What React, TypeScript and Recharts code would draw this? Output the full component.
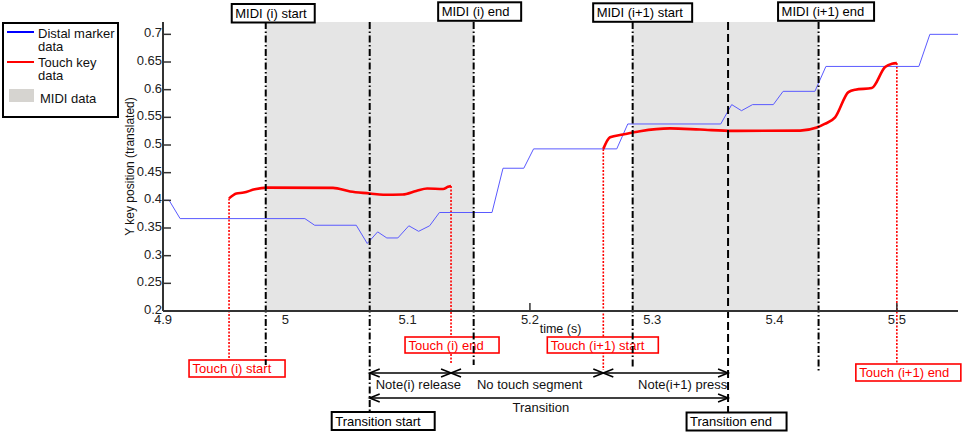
import React from 'react';
import { ComposedChart, Line, XAxis, YAxis, ReferenceArea, ReferenceLine } from 'recharts';

// distal marker trace (time s, y position)
const distalMarker = [
  { t: 4.9, v: 0.4 }, { t: 4.905, v: 0.4 }, { t: 4.914, v: 0.367 }, { t: 5.016, v: 0.367 },
  { t: 5.024, v: 0.355 }, { t: 5.058, v: 0.355 }, { t: 5.067, v: 0.322 }, { t: 5.0755, v: 0.343 },
  { t: 5.083, v: 0.332 }, { t: 5.092, v: 0.332 }, { t: 5.101, v: 0.354 }, { t: 5.109, v: 0.344 },
  { t: 5.118, v: 0.354 }, { t: 5.126, v: 0.378 }, { t: 5.169, v: 0.378 }, { t: 5.178, v: 0.458 },
  { t: 5.195, v: 0.458 }, { t: 5.203, v: 0.493 }, { t: 5.271, v: 0.493 }, { t: 5.28, v: 0.538 },
  { t: 5.356, v: 0.538 }, { t: 5.365, v: 0.573 }, { t: 5.373, v: 0.562 }, { t: 5.382, v: 0.573 },
  { t: 5.399, v: 0.573 }, { t: 5.407, v: 0.597 }, { t: 5.433, v: 0.597 }, { t: 5.442, v: 0.642 },
  { t: 5.518, v: 0.642 }, { t: 5.527, v: 0.7 }, { t: 5.55, v: 0.7 },
];

// touch key trace, null marks the gap between the two touches
const touchKey = [
  { t: 4.954, v: 0.4035 }, { t: 4.96, v: 0.4125 }, { t: 4.966, v: 0.414 }, { t: 4.975, v: 0.42 },
  { t: 4.985, v: 0.423 }, { t: 5.039, v: 0.4225 }, { t: 5.053, v: 0.416 }, { t: 5.069, v: 0.4125 },
  { t: 5.08, v: 0.41 }, { t: 5.096, v: 0.4105 }, { t: 5.107, v: 0.417 }, { t: 5.116, v: 0.4215 },
  { t: 5.129, v: 0.4205 }, { t: 5.133, v: 0.4245 }, { t: 5.1355, v: 0.426 },
  { t: 5.2, v: null },
  { t: 5.26, v: 0.493 }, { t: 5.2655, v: 0.514 }, { t: 5.276, v: 0.519 }, { t: 5.29, v: 0.525 },
  { t: 5.3145, v: 0.53 }, { t: 5.339, v: 0.528 }, { t: 5.366, v: 0.5255 }, { t: 5.421, v: 0.526 },
  { t: 5.4345, v: 0.5315 }, { t: 5.441, v: 0.538 }, { t: 5.4495, v: 0.55 }, { t: 5.4604, v: 0.5955 },
  { t: 5.466, v: 0.6 }, { t: 5.4795, v: 0.603 }, { t: 5.4904, v: 0.641 }, { t: 5.496, v: 0.647 },
  { t: 5.5, v: 0.648 },
];

const midiStart = [4.984, 5.284];
const midiEnd = [5.154, 5.436];
const transitionBounds = [5.069, 5.362];
const touchStart = [4.954, 5.26];
const touchEnd = [5.1355, 5.5];

const xTicks = [4.9, 5, 5.1, 5.2, 5.3, 5.4, 5.5];
const yTicks = [0.2, 0.25, 0.3, 0.35, 0.4, 0.45, 0.5, 0.55, 0.6, 0.65, 0.7];

const midiLabels = ['MIDI (i) start', 'MIDI (i) end', 'MIDI (i+1) start', 'MIDI (i+1) end'];
const touchLabels = ['Touch (i) start', 'Touch (i) end', 'Touch (i+1) start', 'Touch (i+1) end'];
const transitionLabels = ['Transition start', 'Transition end'];
const segmentLabels = ['Note(i) release', 'No touch segment', 'Note(i+1) press'];

const FONT = '"Liberation Sans", Arial, Helvetica, sans-serif';
const AXIS = '#333';
const DASHDOT = '7 2.5 1.5 2.5';

const fmt = (v: number) => String(parseFloat(v.toFixed(2)));
const inShade = (v: number) => midiStart.some((s, i) => v > s && v < midiEnd[i]);
const touchValue = (t: number) => (touchKey.find((p) => p.t === t) as any).v;

// layout of the vertical markers: extension below axis, box placement
const midiLayout = [
  { ext: 54, dx: -34, dy: -18, w: 83, h: 18.5 },
  { ext: 54, dx: -35.5, dy: -19.7, w: 83, h: 18.5 },
  { ext: 57, dx: -39.5, dy: -18.7, w: 99, h: 18.5 },
  { ext: 62, dx: -40.5, dy: -19.7, w: 96, h: 18.5 },
];
const touchLayout = [
  { ext: 49, dx: -40, dy: 49, w: 96, h: 17 },
  { ext: 52, dx: -46, dy: 26, w: 94, h: 16 },
  { ext: 59, dx: -56, dy: 26, w: 111, h: 16 },
  { ext: 57, dx: -41, dy: 53, w: 105, h: 17 },
];
const transitionLayout = [
  { ext: 101, dx: -38, dy: 101, w: 103, h: 18, dash: DASHDOT },
  { ext: 101, dx: -41.5, dy: 101.5, w: 100, h: 18, dash: '8 4' },
];

const XTick = (props: any) => {
  const { x, y, payload } = props;
  const v = payload.value;
  return (
    <g>
      {!inShade(v) && v > 4.95 && <line x1={x} x2={x} y1={y} y2={y - 8} stroke={AXIS} strokeWidth={1.5} />}
      <text x={x} y={y + 13} textAnchor="middle" fontSize={13} fontFamily={FONT} fill="#222">{fmt(v)}</text>
    </g>
  );
};

const YTick = (props: any) => {
  const { x, y, payload } = props;
  return (
    <g>
      <line x1={x} x2={x + 8} y1={y} y2={y} stroke={AXIS} strokeWidth={1.5} />
      <text x={x - 1} y={y + 3} textAnchor="end" fontSize={13} fontFamily={FONT} fill="#222">{fmt(payload.value)}</text>
    </g>
  );
};

const boxed = (x: number, y: number, lay: any, label: string, color: string, sw: number) => (
  <g>
    <rect x={x + lay.dx} y={y} width={lay.w} height={lay.h} fill="#fff" stroke={color} strokeWidth={sw} />
    <text x={x + lay.dx + 3.5} y={y + lay.h / 2 + 4.5} fontSize={13} fontFamily={FONT} fill={color}>{label}</text>
  </g>
);

const markerShape = (lay: any, label: string, color: string, dash: string, width: number, boxTop: boolean, boxColor: string, boxSw: number) => (p: any) => {
  const x = p.x1;
  const top = Math.min(p.y1, p.y2);
  const bottom = Math.max(p.y1, p.y2);
  const by = (boxTop ? top : bottom) + lay.dy;
  return (
    <g>
      <line x1={x} x2={x} y1={top} y2={bottom + lay.ext} stroke={color} strokeWidth={width} strokeDasharray={dash} />
      {boxed(x, by, lay, label, boxColor, boxSw)}
    </g>
  );
};

const head = (x: number, y: number, dir: number) => (
  <path d={`M${x + dir * 10},${y - 4} L${x},${y} L${x + dir * 10},${y + 4}`} fill="none" stroke="#000" strokeWidth={1.6} />
);

const arrowShape = (dy: number, label: string, textDx: number, textDy: number) => (p: any) => {
  const xa = Math.min(p.x1, p.x2);
  const xb = Math.max(p.x1, p.x2);
  const y = p.y1 + dy;
  return (
    <g>
      <line x1={xa} x2={xb} y1={y} y2={y} stroke="#000" strokeWidth={1.6} />
      {head(xa, y, 1)}
      {head(xb, y, -1)}
      <text x={(xa + xb) / 2 + textDx} y={p.y1 + textDy} textAnchor="middle" fontSize={13} fontFamily={FONT} fill="#111">{label}</text>
    </g>
  );
};

const arrowSegments = [
  { a: transitionBounds[0], b: touchEnd[0], dy: 62, label: segmentLabels[0], tdx: 8, tdy: 77.5 },
  { a: touchEnd[0], b: touchStart[1], dy: 62, label: segmentLabels[1], tdx: 2.5, tdy: 77.5 },
  { a: touchStart[1], b: transitionBounds[1], dy: 62, label: segmentLabels[2], tdx: 17, tdy: 77.5 },
  { a: transitionBounds[0], b: transitionBounds[1], dy: 87, label: 'Transition', tdx: -8, tdy: 101 },
];

const Legend = () => (
  <div style={{ position: 'absolute', left: 2, top: 22, width: 117, height: 96, border: '2px solid #000', boxSizing: 'border-box', background: '#fff', fontFamily: FONT, fontSize: 13, lineHeight: '13px', color: '#111' }}>
    <div style={{ position: 'absolute', left: 3, top: 7, width: 27, height: 2, background: '#0000ff' }} />
    <div style={{ position: 'absolute', left: 34, top: 2.5 }}>Distal marker<br />data</div>
    <div style={{ position: 'absolute', left: 3, top: 37, width: 27, height: 2, background: '#ff0000' }} />
    <div style={{ position: 'absolute', left: 34, top: 31.5 }}>Touch key<br />data</div>
    <div style={{ position: 'absolute', left: 5, top: 65, width: 25, height: 13, background: '#d6d4d0' }} />
    <div style={{ position: 'absolute', left: 36, top: 67.5 }}>MIDI data</div>
  </div>
);

export default function App() {
  return (
    <div style={{ position: 'absolute', left: 0, top: 0, width: 964, height: 433, background: '#fff' }}>
      <ComposedChart width={964} height={433} margin={{ top: 22, right: 6, left: 0, bottom: 0 }}>
        {midiStart.map((s, i) => (
          <ReferenceArea key={`ra${i}`} x1={s} x2={midiEnd[i]} fill="#e5e5e5" fillOpacity={1} stroke="none" ifOverflow="visible" />
        ))}
        <XAxis
          type="number"
          dataKey="t"
          domain={[4.9, 5.55]}
          ticks={xTicks}
          allowDataOverflow
          height={122}
          tickSize={0}
          tickMargin={0}
          tickLine={false}
          tick={<XTick />}
          axisLine={{ stroke: AXIS, strokeWidth: 2 }}
          label={(props: any) => {
            const vb = props.viewBox;
            return <text x={vb.x + vb.width / 2} y={vb.y + 22} textAnchor="middle" fontSize={12.5} fontFamily={FONT} fill="#111">time (s)</text>;
          }}
        />
        <YAxis
          type="number"
          domain={[0.2, 0.7223]}
          ticks={yTicks}
          allowDataOverflow
          width={163}
          tickSize={0}
          tickMargin={0}
          tickLine={false}
          tick={<YTick />}
          axisLine={{ stroke: AXIS, strokeWidth: 2 }}
          label={(props: any) => {
            const vb = props.viewBox;
            const cx = 130;
            const cy = vb.y + vb.height / 2;
            return <text x={cx} y={cy} transform={`rotate(-90 ${cx} ${cy})`} textAnchor="middle" dominantBaseline="central" fontSize={12} fontFamily={FONT} fill="#111">Y key position (translated)</text>;
          }}
        />
        {touchStart.map((t, i) => (
          <ReferenceLine key={`ts${i}`} segment={[{ x: t, y: touchValue(t) }, { x: t, y: 0.2 }]} ifOverflow="visible"
            shape={markerShape(touchLayout[i * 2], touchLabels[i * 2], '#ff0000', '2 1.5', 1.6, false, '#ff0000', 1.6)} />
        ))}
        {touchEnd.map((t, i) => (
          <ReferenceLine key={`te${i}`} segment={[{ x: t, y: touchValue(t) }, { x: t, y: 0.2 }]} ifOverflow="visible"
            shape={markerShape(touchLayout[i * 2 + 1], touchLabels[i * 2 + 1], '#ff0000', '2 1.5', 1.6, false, '#ff0000', 1.6)} />
        ))}
        <Line data={distalMarker} dataKey="v" type="linear" stroke="#5a5aff" strokeWidth={1} dot={false} isAnimationActive={false} />
        <Line data={touchKey} dataKey="v" type="monotone" stroke="#ff0000" strokeWidth={2.6} dot={false} isAnimationActive={false} />
        {midiStart.map((t, i) => (
          <ReferenceLine key={`ms${i}`} x={t} ifOverflow="visible"
            shape={markerShape(midiLayout[i * 2], midiLabels[i * 2], '#000', DASHDOT, 2, true, '#000', 2)} />
        ))}
        {midiEnd.map((t, i) => (
          <ReferenceLine key={`me${i}`} x={t} ifOverflow="visible"
            shape={markerShape(midiLayout[i * 2 + 1], midiLabels[i * 2 + 1], '#000', DASHDOT, 2, true, '#000', 2)} />
        ))}
        {transitionBounds.map((t, i) => (
          <ReferenceLine key={`tr${i}`} x={t} ifOverflow="visible"
            shape={markerShape(transitionLayout[i], transitionLabels[i], '#000', transitionLayout[i].dash, 2, false, '#000', 2)} />
        ))}
        {arrowSegments.map((a, i) => (
          <ReferenceLine key={`ar${i}`} segment={[{ x: a.a, y: 0.2 }, { x: a.b, y: 0.2 }]} ifOverflow="visible"
            shape={arrowShape(a.dy, a.label, a.tdx, a.tdy)} />
        ))}
      </ComposedChart>
      <Legend />
    </div>
  );
}
